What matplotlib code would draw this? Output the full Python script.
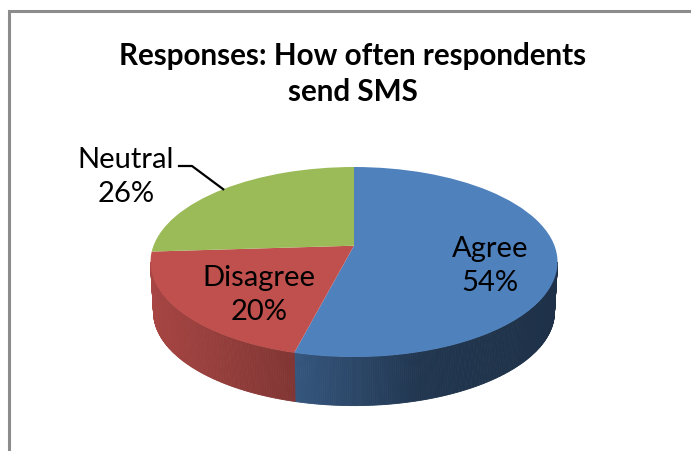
import matplotlib
matplotlib.use("Agg")
import matplotlib.pyplot as plt
from matplotlib.transforms import Transform
import numpy as np

categories = ["Agree", "Disagree", "Neutral"]
percents = [54, 20, 26]
colors = ["#4F81BD", "#C0504D", "#9BBB59"]
title = "Responses: How often respondents\nsend SMS"

plt.rcParams["font.family"] = ["Lato", "DejaVu Sans"]

# pie is drawn flat, then tilted with a small perspective
CX, CY = 354, 246.7
RX, RY = 200.5, 92.2
K = 0.1716


def tilt(x, y, scale=1.0, cy=CY):
    w = 1 + K * y
    return CX + scale * RX * x / w, cy - scale * RY * y / w


class Tilt(Transform):
    input_dims = output_dims = 2

    def transform_non_affine(self, values):
        px, py = tilt(values[:, 0], values[:, 1])
        return np.column_stack([px, py])


def side_shade(px):
    return np.interp(px, [150, 293, 420, 558], [0.87, 0.67, 0.42, 0.38])


fig = plt.figure(figsize=(6.91, 4.52), dpi=100)
ax = fig.add_axes([0, 0, 1, 1])

wedges, _ = ax.pie(percents, colors=colors, startangle=90, counterclock=False, frame=False)
ax.set_aspect("auto")
ax.set_xlim(0, 691)
ax.set_ylim(452, 0)
ax.axis("off")

for w in wedges:
    w.set_transform(Tilt() + ax.transData)
    w.set_zorder(3)
    w.set_linewidth(0)

# side wall, from the same slice angles, only the part that faces us
edges = 90 - np.cumsum([0] + percents) * 3.6
for i, col in enumerate(colors):
    angles = np.radians(np.arange(edges[i], edges[i + 1] - 0.5, -0.5))
    angles = angles[np.sin(angles) < -K]
    base = np.array(matplotlib.colors.to_rgb(col))
    for a0, a1 in zip(angles[:-1], angles[1:]):
        x0, y0 = tilt(np.cos(a0), np.sin(a0))
        x1, y1 = tilt(np.cos(a1), np.sin(a1))
        x2, y2 = tilt(np.cos(a1), np.sin(a1), 0.985, 297)
        x3, y3 = tilt(np.cos(a0), np.sin(a0), 0.985, 297)
        shade = base * side_shade((x0 + x1) / 2)
        ax.fill([x0, x1, x2, x3], [y0, y1, y2, y3], color=shade, lw=0.6, zorder=2)

# chart frame
ax.plot([9, 9, 691], [452, 12, 12], color="#8C8C8C", lw=2.2, solid_joinstyle="miter", zorder=1)

ax.text(353, 74, title, ha="center", va="center", fontsize=21.3, fontweight="bold",
        color="black", linespacing=1.36, zorder=5)

ax.text(490, 266, f"{categories[0]}\n{percents[0]}%", ha="center", va="center",
        fontsize=21, color="black", linespacing=1.4, zorder=5)
ax.text(259, 295, f"{categories[1]}\n{percents[1]}%", ha="center", va="center",
        fontsize=21, color="black", linespacing=1.4, zorder=5)
ax.text(126, 177, f"{categories[2]}\n{percents[2]}%", ha="center", va="center",
        fontsize=21, color="black", linespacing=1.4, zorder=5)

# leader line for the outside label, ends on the middle of the slice
mid = np.radians((edges[2] + edges[3]) / 2)
lx, ly = tilt(np.cos(mid), np.sin(mid))
ax.plot([179, 192, lx], [167, 167, ly], color="black", lw=1.6, zorder=4)

fig.savefig("out.png", dpi=100)
